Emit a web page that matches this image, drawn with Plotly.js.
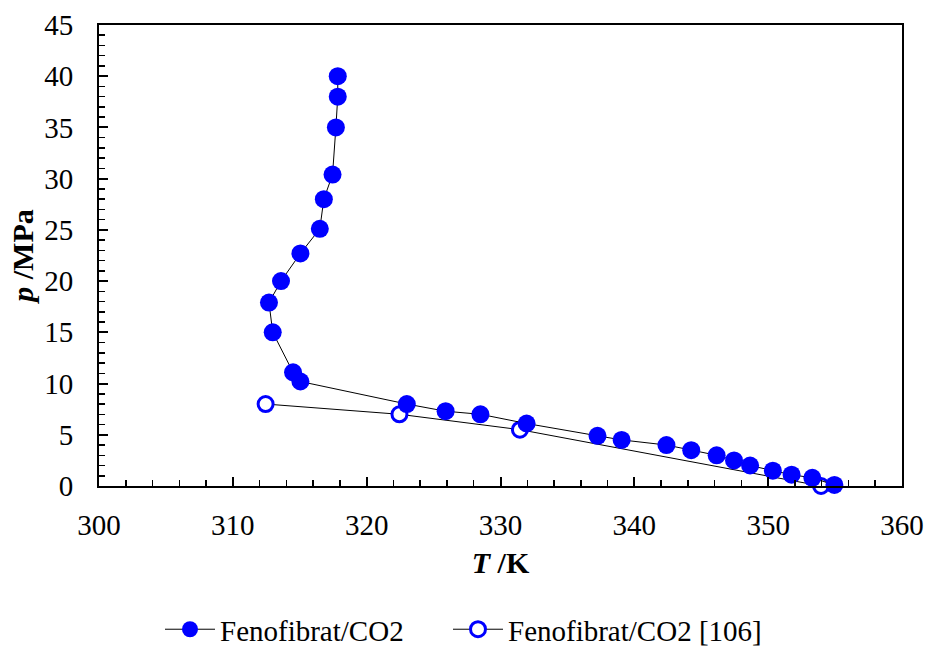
<!DOCTYPE html>
<html>
<head>
<meta charset="utf-8">
<script src="https://cdn.plot.ly/plotly-3.0.1.min.js"></script>
<style>html,body{margin:0;padding:0;background:#fff;}#chart{width:925px;height:647px;}</style>
</head>
<body>
<div id="chart"></div>
<script>
const seriesNames = ["Fenofibrat/CO2", "Fenofibrat/CO2 [106]"];
const T1 = [317.84, 317.84, 317.7, 317.45, 316.8, 316.5, 315.05, 313.6, 312.7, 312.98, 314.5, 315.05, 323.0, 325.9, 328.5, 331.95, 337.25, 339.05, 342.4, 344.25, 346.15, 347.45, 348.65, 350.35, 351.75, 353.3, 354.95];
const p1 = [40.0, 38.0, 35.0, 30.4, 28.0, 25.1, 22.7, 20.0, 17.9, 15.0, 11.1, 10.2, 8.0, 7.3, 7.0, 6.1, 4.9, 4.5, 4.0, 3.5, 3.0, 2.5, 2.0, 1.5, 1.1, 0.8, 0.1];
const T2 = [312.45, 322.45, 331.45, 353.95];
const p2 = [8.0, 7.0, 5.5, 0.0];
const xTicks = [300, 310, 320, 330, 340, 350, 360];
const yTicks = [0, 5, 10, 15, 20, 25, 30, 35, 40, 45];

const font = "Liberation Serif";
const data = [
  {x: T2, y: p2, name: seriesNames[1], legend: "legend2", mode: "lines+markers", type: "scatter",
   cliponaxis: false,
   line: {color: "#000000", width: 1},
   marker: {color: "#FFFFFF", size: 15, symbol: "circle", line: {color: "#0000FF", width: 3}}},
  {x: T1, y: p1, name: seriesNames[0], legend: "legend", mode: "lines+markers", type: "scatter",
   cliponaxis: false,
   line: {color: "#000000", width: 1},
   marker: {color: "#0000FF", size: 18, line: {width: 0}}}
];
const axisCommon = {
  showgrid: false, zeroline: false, showline: true, linecolor: "#000", linewidth: 2, mirror: true,
  ticks: "inside", ticklen: 9, tickwidth: 2, tickcolor: "#000",
  tickfont: {family: font, size: 29, color: "#000"}
};
const legendCommon = {orientation: "h", xanchor: "left", y: -0.311, yanchor: "middle",
  font: {family: font, size: 29, color: "#000"}, itemwidth: 50, bgcolor: "rgba(0,0,0,0)"};
const layout = {
  width: 925, height: 647,
  margin: {l: 99, r: 23, t: 25, b: 161, autoexpand: false},
  paper_bgcolor: "#fff", plot_bgcolor: "#fff",
  font: {family: font, color: "#000", size: 29},
  xaxis: Object.assign({}, axisCommon, {
    range: [300, 360], tickvals: xTicks, ticktext: xTicks.map(String),
    ticklabelstandoff: 12,
    minor: {dtick: 2, ticks: "inside", ticklen: 6, tickwidth: 1.5, tickcolor: "#000", showgrid: false},
    title: {text: "<b><i>T</i> /K</b>", font: {family: font, size: 30, color: "#000"}, standoff: 12}
  }),
  yaxis: Object.assign({}, axisCommon, {
    range: [0, 45], tickvals: yTicks, ticktext: yTicks.map(String),
    ticklabelstandoff: 18,
    minor: {dtick: 1, ticks: "inside", ticklen: 6, tickwidth: 1.5, tickcolor: "#000", showgrid: false},
    title: {text: "<b><i>p</i> /MPa</b>", font: {family: font, size: 30, color: "#000"}, standoff: 2}
  }),
  showlegend: true,
  legend: Object.assign({}, legendCommon, {x: (160 - 99) / 803}),
  legend2: Object.assign({}, legendCommon, {x: (448 - 99) / 803})
};
Plotly.newPlot("chart", data, layout, {displayModeBar: false, staticPlot: true});
</script>
</body>
</html>
